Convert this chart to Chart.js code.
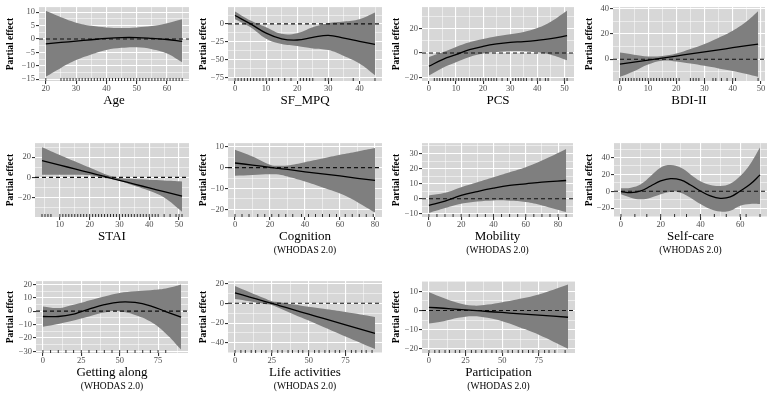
<!DOCTYPE html>
<html><head><meta charset="utf-8">
<script src="https://cdn.jsdelivr.net/npm/chart.js@4/dist/chart.umd.min.js"></script>
<style>
html,body{margin:0;padding:0;background:#fff;}
body{width:772px;height:395px;position:relative;overflow:hidden;}
canvas{position:absolute;}
</style>
</head><body>
<script>
// ---------- DATA ----------
// Age
const ageX   = [20,25,30,35,40,45,50,55,60,65];
const ageFit = [-1.8,-1.3,-0.8,-0.3,0.2,0.5,0.5,0.2,-0.2,-0.9];
const ageLo  = [-14.1,-10.8,-7.9,-5.8,-4.1,-3.3,-3.1,-3.8,-5.4,-8.7];
const ageHi  = [10.5,8.1,6.1,4.9,4.3,4.1,4.3,4.8,5.9,7.4];
const ageRug = [20,25,26,27,28,29,30,31,32,33,34,35,36,37,38,39,40,41,42,43,44,45,46,47,48,49,50,51,52,53,54,55,56,57,58,59,60,61,62,63,64,65];
const ageXTicks = [20,30,40,50,60];
const ageYTicks = [-15,-10,-5,0,5,10];

// SF_MPQ
const sfX   = [0,5,10,15,20,25,30,35,40,45];
const sfFit = [11.8,0,-13,-21,-22.6,-19,-16,-20,-24.5,-28.8];
const sfLo  = [6.6,-4.7,-20.7,-28.3,-31,-34.4,-36.8,-45,-55.7,-72];
const sfHi  = [17.5,4.7,-4.7,-14,-13,-4.7,1,3.3,6.6,16];
const sfRug = [0,1,2,3,4,5,6,7,8,9,10,11,12,14,16,18,21,22,23,24,25,29,30,31,38,45];
const sfXTicks = [0,10,20,30,40];
const sfYTicks = [-75,-50,-25,0];

// PCS
const pcsX   = [0,5,10,15,20,25,30,35,40,45,51];
const pcsFit = [-10.9,-5.4,-1.4,2.7,5.4,7.4,8.7,9.3,10.3,11.7,14.2];
const pcsLo  = [-18.5,-12.3,-7.6,-3.3,-0.5,0.8,1.4,1.4,0.5,-1.4,-6];
const pcsHi  = [-3.3,0.5,4.9,8.7,11.4,13.6,15.3,17.2,20.4,25.6,34.6];
const pcsRug = [2,3,4,5,6,7,8,9,10,11,12,13,14,15,16,17,18,19,20,21,22,23,24,25,27,29,31,32,33,34,35,36,38,40,41,43,44,50,51];
const pcsXTicks = [0,10,20,30,40,50];
const pcsYTicks = [-20,0,20];

// BDI-II
const bdiX   = [0,5,10,15,20,25,30,35,40,45,49];
const bdiFit = [-4,-2.4,-0.7,0.9,2.5,4.2,5.8,7.4,9.1,10.7,12];
const bdiLo  = [-14,-9.5,-4.2,-1.2,-1.8,-3.5,-5.3,-7.3,-9.3,-11.7,-14];
const bdiHi  = [5.3,3.6,2.2,2.5,4.5,8,12,17,22.5,30,38];
const bdiRug = [0,1,2,3,4,5,6,7,8,9,10,11,12,13,14,15,16,17,18,19,20,21,25,26,27,28,30,33,34,36,38,40,41,49];
const bdiXTicks = [0,10,20,30,40,50];
const bdiYTicks = [0,20,40];

// STAI
const staiX   = [4,10,15,20,25,28,30,35,40,45,51];
const staiFit = [16.7,12.2,8.4,4.7,0.9,-1.4,-2.9,-6.7,-10.4,-14.2,-18.7];
const staiLo  = [2.6,2.6,2.5,2,-0.7,-2,-3.3,-8.3,-13.3,-20,-34];
const staiHi  = [30,22.3,16,9.7,3.3,0.7,-0.7,-1.7,-2.3,-3,-4];
const staiRug = [4,5,6,7,10,11,12,13,14,15,16,17,18,19,20,21,22,23,24,25,26,27,28,29,30,31,32,33,34,35,36,37,38,39,40,41,42,43,45,47,49,50,51];
const staiXTicks = [10,20,30,40,50];
const staiYTicks = [-20,0,20];

// Cognition
const cogX   = [0,10,20,25,30,40,50,60,70,80];
const cogFit = [2.2,1.2,0.1,-0.4,-0.9,-2.0,-3.0,-4.0,-5.1,-6.1];
const cogLo  = [-3.9,-3.5,-3.2,-3.3,-4.3,-6.7,-9.5,-12.4,-16.5,-21.5];
const cogHi  = [8.5,5.3,1.4,0.9,1,2.6,4.3,6.1,7.7,9.3];
const cogRug = [0,4,8,13,17,21,25,29,33,38,42,46,50,54,58,63,67,71,75,79];
const cogXTicks = [0,20,40,60,80];
const cogYTicks = [-20,-10,0,10];

// Mobility
const mobX   = [0,10,20,30,40,50,60,70,85];
const mobFit = [-4.4,-1.5,2.2,4.8,7,8.8,9.9,11,12.1];
const mobLo  = [-9.5,-6.2,-3.3,-1.8,-1.1,-1.3,-2.2,-4.4,-8.8];
const mobHi  = [2.2,4,7.7,11,14.3,17.6,20.9,25.3,33];
const mobRug = [0,5,10,15,20,25,30,35,40,45,50,55,60,65,70,75,80,85];
const mobXTicks = [0,20,40,60,80];
const mobYTicks = [-10,0,10,20,30];

// Self-care
const scX   = [0,5,10,15,20,25,30,35,40,45,50,55,60,65,70];
const scFit = [-0.4,-1.6,0.4,6.3,12.2,15,13.4,7.5,0.4,-5.5,-8.3,-6.7,0.4,8.3,19.4];
const scLo  = [-3.6,-7.5,-9.5,-7.5,-3.6,-0.4,-1.6,-7.5,-15,-21,-24,-23,-17,-15,-15];
const scHi  = [3.6,4.3,8.3,18,28,31,28,20,12,7.5,6.3,9,18,32,51.8];
const scRug = [0,7,13,20,27,33,40,47,53,60,63,70];
const scXTicks = [0,20,40,60];
const scYTicks = [-20,0,20,40];

// Getting along
const gaX   = [0,10,20,25,30,40,50,60,70,80,90];
const gaFit = [-4,-4,-2.3,-0.3,1.5,4.8,6.8,6.5,4,-0.3,-4.5];
const gaLo  = [-11.6,-9.5,-7,-5.5,-4,-1,-0.3,-2.8,-7.8,-16.6,-28.6];
const gaHi  = [3.5,2.3,4.8,6.3,8,11,13.6,14.8,15.6,16.8,19.8];
const gaRug = [0,5,10,15,20,25,30,35,40,45,50,55,60,65,70,75,80];
const gaXTicks = [0,25,50,75];
const gaYTicks = [-30,-20,-10,0,10,20];

// Life activities
const laX   = [0,10,20,25,30,40,50,60,75,95];
const laFit = [10.6,6.3,2,-0.2,-2.3,-6.7,-11,-15.3,-21.8,-30.4];
const laLo  = [4.3,2,-0.7,-1.7,-4.8,-11.2,-17.5,-23.9,-33.5,-46.2];
const laHi  = [17.5,11.2,5,2,1,-1.3,-3.6,-5.6,-8.9,-13.9];
const laRug = [0,4,7,11,14,18,21,25,29,32,36,39,43,46,50,54,57,61,64,68,71,75,79,82,86,89,93];
const laXTicks = [0,25,50,75];
const laYTicks = [-40,-20,0,20];

// Participation
const paX   = [0,10,20,30,40,50,60,75,95];
const paFit = [1.7,1.2,0.6,0.1,-0.5,-1.0,-1.6,-2.4,-3.5];
const paLo  = [-6.8,-5.6,-3.8,-3,-3.8,-5.6,-8.2,-12.6,-20];
const paHi  = [9.6,6.6,4,2.6,3.1,4.4,5.8,8.4,13.6];
const paRug = [0,4,7,11,14,18,21,25,29,32,36,39,43,46,50,54,57,61,64,68,71,75,79,82,86,93];
const paXTicks = [0,25,50,75];
const paYTicks = [-20,-10,0,10];

// ---------- LAYOUT / STYLE ----------
const SERIF = '"Liberation Serif", "Times New Roman", serif';
const PANEL_BG = '#d7d7d7';
const BAND = '#7f7f7f';
const rows = [{T:7,B:81},{T:143,B:217},{T:281,B:353}];
const CELL_W = 193;

const panels = [
  {label:'Age', sub:'', row:0,col:0,L:39, R:189, x:ageX,fit:ageFit,lo:ageLo,hi:ageHi,rug:ageRug,xt:ageXTicks,yt:ageYTicks,xr:[17.75,67.25],yr:[-15.7,11.9]},
  {label:'SF_MPQ', sub:'', row:0,col:1,L:228,R:382, x:sfX,fit:sfFit,lo:sfLo,hi:sfHi,rug:sfRug,xt:sfXTicks,yt:sfYTicks,xr:[-2.25,47.25],yr:[-80.2,23.6]},
  {label:'PCS', sub:'', row:0,col:2,L:422,R:574, x:pcsX,fit:pcsFit,lo:pcsLo,hi:pcsHi,rug:pcsRug,xt:pcsXTicks,yt:pcsYTicks,xr:[-2.55,53.55],yr:[-23,37.6]},
  {label:'BDI-II', sub:'', row:0,col:3,L:613,R:765, x:bdiX,fit:bdiFit,lo:bdiLo,hi:bdiHi,rug:bdiRug,xt:bdiXTicks,yt:bdiYTicks,xr:[-2.45,51.45],yr:[-17.3,41.3]},
  {label:'STAI', sub:'', row:1,col:0,L:35, R:189, x:staiX,fit:staiFit,lo:staiLo,hi:staiHi,rug:staiRug,xt:staiXTicks,yt:staiYTicks,xr:[1.65,53.35],yr:[-39.3,34]},
  {label:'Cognition', sub:'(WHODAS 2.0)', row:1,col:1,L:228,R:382, x:cogX,fit:cogFit,lo:cogLo,hi:cogHi,rug:cogRug,xt:cogXTicks,yt:cogYTicks,xr:[-4,84],yr:[-23.6,11.7]},
  {label:'Mobility', sub:'(WHODAS 2.0)', row:1,col:2,L:422,R:573, x:mobX,fit:mobFit,lo:mobLo,hi:mobHi,rug:mobRug,xt:mobXTicks,yt:mobYTicks,xr:[-4.25,89.25],yr:[-12.1,36.9]},
  {label:'Self-care', sub:'(WHODAS 2.0)', row:1,col:3,L:614,R:767, x:scX,fit:scFit,lo:scLo,hi:scHi,rug:scRug,xt:scXTicks,yt:scYTicks,xr:[-3.5,73.5],yr:[-30.4,57]},
  {label:'Getting along', sub:'(WHODAS 2.0)', row:2,col:0,L:36, R:188, x:gaX,fit:gaFit,lo:gaLo,hi:gaHi,rug:gaRug,xt:gaXTicks,yt:gaYTicks,xr:[-4.5,94.5],yr:[-31.2,22.4]},
  {label:'Life activities', sub:'(WHODAS 2.0)', row:2,col:1,L:228,R:382, x:laX,fit:laFit,lo:laLo,hi:laHi,rug:laRug,xt:laXTicks,yt:laYTicks,xr:[-4.75,99.75],yr:[-50.2,22.4]},
  {label:'Participation', sub:'(WHODAS 2.0)', row:2,col:2,L:422,R:575, x:paX,fit:paFit,lo:paLo,hi:paHi,rug:paRug,xt:paXTicks,yt:paYTicks,xr:[-4.75,99.75],yr:[-22.2,15.4]}
];

function tickList(major, range){
  const step = major.length > 1 ? major[1]-major[0] : 10;
  const out = [];
  const add = (v,m) => { if (v >= range[0]-1e-9 && v <= range[1]+1e-9) out.push({value:v, isMinor:m}); };
  add(major[0]-step/2, true);
  major.forEach(v => { add(v,false); add(v+step/2,true); });
  return out.sort((a,b)=>a.value-b.value);
}
const fmt = v => v < 0 ? '\u2212' + Math.abs(v) : String(v);
const pts = (xs, ys) => xs.map((x,i) => ({x:x, y:ys[i]}));

const bgPlugin = {
  id:'panelBg',
  beforeDraw(chart){
    const a = chart.chartArea, ctx = chart.ctx;
    ctx.save(); ctx.fillStyle = PANEL_BG;
    ctx.fillRect(a.left, a.top, a.right-a.left, a.bottom-a.top);
    ctx.restore();
  }
};
const subPlugin = {
  id:'subLabel',
  afterDraw(chart, args, opts){
    if (!opts || !opts.text) return;
    const a = chart.chartArea, ctx = chart.ctx;
    ctx.save();
    ctx.font = '9.5px ' + SERIF;
    ctx.fillStyle = '#000';
    ctx.textAlign = 'center'; ctx.textBaseline = 'middle';
    ctx.fillText(opts.text, (a.left+a.right)/2, a.bottom + 33.5);
    ctx.restore();
  }
};

const gridOpts = {
  color:'#ffffff',
  lineWidth: c => (c.tick && c.tick.isMinor) ? 0.5 : 1.1,
  tickColor: c => (c.tick && c.tick.isMinor) ? 'rgba(0,0,0,0)' : '#333333',
  tickLength:3, drawTicks:true, drawOnChartArea:true
};
const TENSION = 0.4;

panels.forEach(p => {
  const row = rows[p.row];
  const cellLeft = p.col * CELL_W;
  const padTop = 6, padRight = 6, XH = 27;
  const padBottom = p.sub ? 17 : 2;
  const YW = p.L - cellLeft;
  const W = p.R - cellLeft + padRight;
  const H = padTop + (row.B - row.T) + XH + padBottom;
  const cv = document.createElement('canvas');
  cv.width = W; cv.height = H;
  cv.style.left = cellLeft + 'px'; cv.style.top = (row.T - padTop) + 'px';
  cv.style.width = W + 'px'; cv.style.height = H + 'px';
  document.body.appendChild(cv);

  new Chart(cv.getContext('2d'), {
    type:'line',
    data:{ datasets:[
      {data:pts(p.x,p.lo), borderColor:'rgba(0,0,0,0)', borderWidth:0, pointRadius:0, fill:false, tension:TENSION, order:4},
      {data:pts(p.x,p.hi), borderColor:'rgba(0,0,0,0)', borderWidth:0, pointRadius:0, fill:'-1', backgroundColor:BAND, tension:TENSION, order:3},
      {data:[{x:p.xr[0],y:0},{x:p.xr[1],y:0}], borderColor:'#111', borderWidth:1.1, borderDash:[4,3], pointRadius:0, fill:false, order:2},
      {data:pts(p.x,p.fit), borderColor:'#000', borderWidth:1.3, pointRadius:0, fill:false, tension:TENSION, order:0},
      {data:p.rug.map(v => ({x:v, y:p.yr[0]})), showLine:false, pointStyle:'line', pointRotation:90, pointRadius:3,
       pointBorderColor:'#1a1a1a', pointBackgroundColor:'#1a1a1a', pointBorderWidth:0.9, clip:0, order:1}
    ]},
    options:{
      responsive:false, animation:false, devicePixelRatio:1, events:[],
      layout:{padding:{top:padTop, right:padRight, bottom:padBottom, left:0}},
      plugins:{legend:{display:false}, tooltip:{enabled:false}, subLabel:{text:p.sub}},
      scales:{
        x:{type:'linear', min:p.xr[0], max:p.xr[1],
           afterBuildTicks: s => { s.ticks = tickList(p.xt, p.xr); },
           afterFit: s => { s.height = XH; },
           ticks:{autoSkip:false, maxRotation:0, minRotation:0, padding:0, color:'#4d4d4d',
                  font:{family:SERIF, size:8.5}, callback:(v,i,t) => t[i].isMinor ? '' : fmt(v)},
           grid:gridOpts, border:{display:false},
           title:{display:true, text:p.label, color:'#000', font:{family:SERIF, size:13}, padding:{top:0,bottom:0}}
        },
        y:{type:'linear', min:p.yr[0], max:p.yr[1],
           afterBuildTicks: s => { s.ticks = tickList(p.yt, p.yr); },
           afterFit: s => { s.width = YW; },
           ticks:{autoSkip:false, padding:1, color:'#4d4d4d',
                  font:{family:SERIF, size:8.5}, callback:(v,i,t) => t[i].isMinor ? '' : fmt(v)},
           grid:gridOpts, border:{display:false},
           title:{display:true, text:'Partial effect', color:'#000', font:{family:SERIF, size:9.5, weight:'bold'}, padding:{top:5,bottom:0}}
        }
      }
    },
    plugins:[bgPlugin, subPlugin]
  });
});
</script>
</body></html>
